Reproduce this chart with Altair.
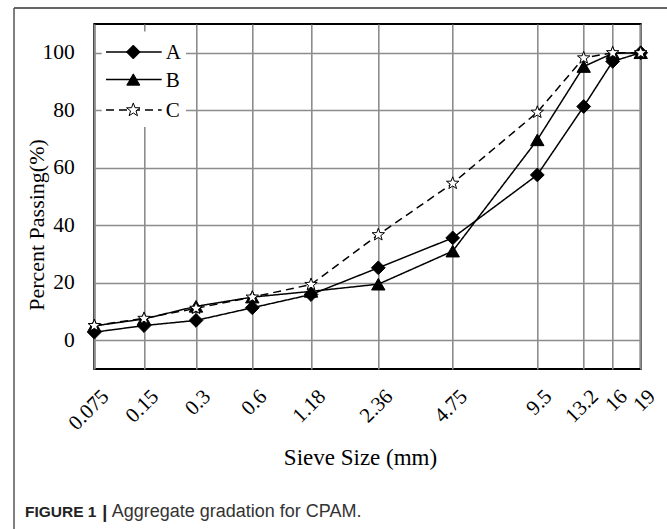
import altair as alt
import pandas as pd

# Sieve openings (mm) and percent passing for the three gradations
SIEVE = [0.075, 0.15, 0.3, 0.6, 1.18, 2.36, 4.75, 9.5, 13.2, 16, 19]
PASS_A = [2.8, 5.1, 6.9, 11.3, 15.9, 25.2, 35.6, 57.5, 81.3, 97.0, 100]
PASS_B = [5.0, 7.4, 11.8, 15.0, 17.0, 19.5, 31.0, 69.7, 95.2, 99.8, 100]
PASS_C = [5.1, 7.6, 11.1, 15.0, 19.4, 36.7, 54.6, 79.3, 98.2, 100, 100]
SERIES = ["A", "B", "C"]
Y_TICKS = [0, 20, 40, 60, 80, 100]

# Gradation-chart x axis: where each sieve sits along the plot width (px)
X_POS = [0, 49.7, 101.7, 158, 216.7, 284, 358.4, 443, 489.4, 518.4, 546.4]
W, H = 546.4, 345

STAR = ("M0,-1L0.24,-0.33L0.95,-0.31L0.39,0.13L0.59,0.81L0,0.42"
        "L-0.59,0.81L-0.39,0.13L-0.95,-0.31L-0.24,-0.33Z")
SHAPES = ["diamond", "triangle-up", STAR]
FILLS = ["black", "black", "white"]
SIZES = [190, 170, 200]
DASHES = [[1, 0], [1, 0], [8, 5]]

SERIF = "Liberation Serif"
SANS = "Liberation Sans"

rows = [
    {"size": s, "series": name, "passing": v}
    for name, vals in zip(SERIES, [PASS_A, PASS_B, PASS_C])
    for s, v in zip(SIEVE, vals)
]
df = pd.DataFrame(rows)

x = alt.X(
    "size:Q",
    scale=alt.Scale(domain=SIEVE, range=X_POS),
    axis=alt.Axis(
        values=SIEVE, labelExpr="format(datum.value, '~g')",
        labelAngle=-45, labelAlign="right", labelBaseline="middle",
        labelFont=SERIF, labelFontSize=21, labelColor="black",
        labelPadding=24, labelOffset=11, labelFlush=False, labelOverlap=False,
        ticks=False, tickSize=0, domain=False,
        grid=True, gridColor="#8c8c8c", gridWidth=1.6,
        title="Sieve Size (mm)", titleFont=SERIF, titleFontSize=23,
        titleFontWeight="normal", titleColor="black",
        titleX=265.7, titleY=95, titleAlign="center", titleBaseline="alphabetic",
    ),
)
y = alt.Y(
    "passing:Q",
    scale=alt.Scale(domain=[-10, 110]),
    axis=alt.Axis(
        values=Y_TICKS, format="d",
        labelFont=SERIF, labelFontSize=21.5, labelColor="black", labelPadding=20,
        ticks=False, tickSize=0, domain=False,
        grid=True, gridColor="#8c8c8c", gridWidth=1.6,
        title="Percent Passing(%)", titleFont=SERIF, titleFontSize=22,
        titleFontWeight="normal", titleColor="black", titleAngle=270,
        titleX=-51.3, titleY=200.5, titleAlign="center", titleBaseline="alphabetic",
    ),
)

lines = alt.Chart(df).mark_line(color="black", strokeWidth=1.5).encode(
    x=x, y=y, detail="series:N",
    strokeDash=alt.StrokeDash("series:N", scale=alt.Scale(domain=SERIES, range=DASHES), legend=None),
)
points = alt.Chart(df).mark_point(filled=True, stroke="black", strokeWidth=1, opacity=1).encode(
    x=x, y=y,
    shape=alt.Shape("series:N", scale=alt.Scale(domain=SERIES, range=SHAPES), legend=None),
    fill=alt.Fill("series:N", scale=alt.Scale(domain=SERIES, range=FILLS), legend=None),
    size=alt.Size("series:N", scale=alt.Scale(domain=SERIES, range=SIZES), legend=None),
)

one = alt.Data(values=[{}])

# Legend panel in the upper-left corner of the plot
legend_layers = [
    alt.Chart(one).mark_rect(fill="white").encode(
        x=alt.value(7.4), x2=alt.value(91.7), y=alt.value(7.5), y2=alt.value(103)
    )
]
LEG_Y = [28, 55.5, 86]
for name, ly, shp, fll, sz, dash in zip(SERIES, LEG_Y, SHAPES, FILLS, SIZES, DASHES):
    legend_layers.append(
        alt.Chart(one).mark_rule(color="black", strokeWidth=1.5, strokeDash=dash).encode(
            x=alt.value(11.7), x2=alt.value(67.4), y=alt.value(ly)
        )
    )
    legend_layers.append(
        alt.Chart(one).mark_point(shape=shp, filled=True, fill=fll, stroke="black",
                                  strokeWidth=1, opacity=1, size=sz).encode(
            x=alt.value(39), y=alt.value(ly)
        )
    )
    legend_layers.append(
        alt.Chart(one).mark_text(align="left", baseline="middle", font=SERIF,
                                 fontSize=21, color="black").encode(
            x=alt.value(71.5), y=alt.value(ly + 1), text=alt.value(name)
        )
    )

# Figure frame and caption
frame = [
    alt.Chart(one).mark_rule(color="#333333", strokeWidth=1.5).encode(
        x=alt.value(-80.3), x2=alt.value(572.7), y=alt.value(-16)
    ),
    alt.Chart(one).mark_rule(color="#555555", strokeWidth=1.5).encode(
        x=alt.value(-80.3), y=alt.value(-16), y2=alt.value(505)
    ),
]
caption = [
    alt.Chart(one).mark_text(align="left", baseline="alphabetic", font=SANS,
                             fontSize=15.5, fontWeight="bold", color="#222222").encode(
        x=alt.value(-69.3), y=alt.value(493), text=alt.value("FIGURE 1")
    ),
    alt.Chart(one).mark_text(align="center", baseline="alphabetic", font=SANS,
                             fontSize=18, fontWeight="bold", color="#222222").encode(
        x=alt.value(10.5), y=alt.value(494), text=alt.value("|")
    ),
    alt.Chart(one).mark_text(align="left", baseline="alphabetic", font=SANS,
                             fontSize=18, color="#333333").encode(
        x=alt.value(17.4), y=alt.value(493), text=alt.value("Aggregate gradation for CPAM.")
    ),
]

chart = alt.layer(lines, points, *legend_layers, *frame, *caption).properties(
    width=W, height=H,
    autosize=alt.AutoSizeParams(type="none"),
    padding={"left": 94.3, "top": 24, "right": 26.3, "bottom": 160},
    background="white",
).configure_view(stroke="black", strokeWidth=2)

chart.save("out.html", embed_options={"renderer": "svg", "actions": False})
